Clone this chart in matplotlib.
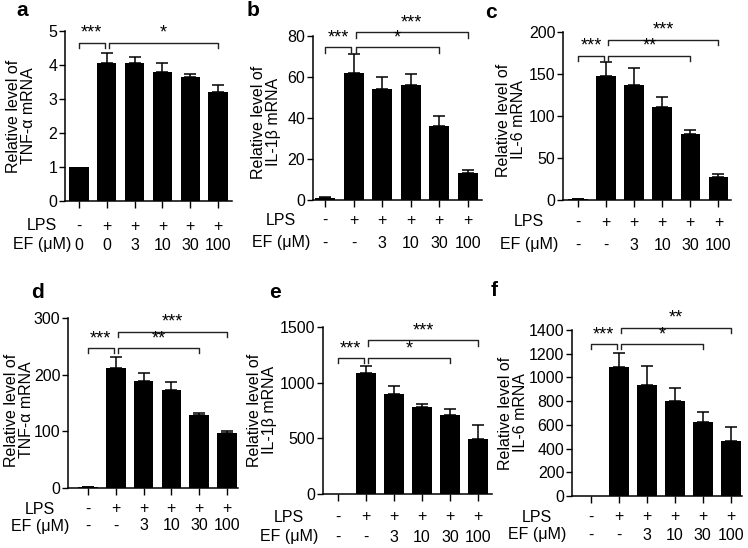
import numpy as np
import matplotlib
matplotlib.use('Agg')
import matplotlib.pyplot as plt

plt.rcParams['font.family'] = ['Liberation Sans', 'DejaVu Sans']

# Row labels under the bars
lps = ['-', '+', '+', '+', '+', '+']
ef_a = ['0', '0', '3', '10', '30', '100']
ef = ['-', '-', '3', '10', '30', '100']

# Bar means and (upper) SEM
tnf_a_mean = [1.0, 4.07, 4.07, 3.78, 3.65, 3.21]
tnf_a_err = [0, 0.29, 0.17, 0.28, 0.08, 0.19]
il1b_b_mean = [1, 62, 54, 56, 36, 13]
il1b_b_err = [0.3, 9, 6, 5.5, 5, 1.5]
il6_c_mean = [1, 148, 137, 111, 78, 27]
il6_c_err = [0.5, 16, 20, 12, 5, 4]
tnf_d_mean = [1, 211, 188, 173, 128, 97]
tnf_d_err = [0.5, 20, 15, 14, 4, 4]
il1b_e_mean = [0, 1087, 901, 781, 707, 497]
il1b_e_err = [0, 60, 72, 30, 60, 123]
il6_f_mean = [0, 1090, 935, 803, 625, 465]
il6_f_err = [0, 118, 164, 104, 85, 118]

# significance brackets: (from bar, to bar, label, height)
sig_a = [(0, 1, '***', 4.66), (1, 5, '*', 4.66)]
sig_b = [(0, 1, '***', 74.5), (1, 4, '*', 74.5), (1, 5, '***', 81.8)]
sig_c = [(0, 1, '***', 172), (1, 4, '**', 172), (1, 5, '***', 191)]
sig_d = [(0, 1, '***', 247), (1, 4, '**', 247), (1, 5, '***', 276)]
sig_e = [(0, 1, '***', 1221), (1, 4, '*', 1221), (1, 5, '***', 1380)]
sig_f = [(0, 1, '***', 1282), (1, 4, '*', 1282), (1, 5, '**', 1420)]

W, H = 748, 548
fig = plt.figure(figsize=(W / 100, H / 100), dpi=100)

panels = [
    # axes px box (left, right, top, bottom), letter / ylabel positions in px,
    # LPS / EF row offsets below the axis in px
    dict(letter='a', mean=tnf_a_mean, err=tnf_a_err, sig=sig_a, ymax=5, ystep=1,
         ylabel='Relative level of\nTNF-α mRNA', ef=ef_a,
         box=(65, 232, 31, 201), xl=(-0.5, 5.5), lpos=(22, 11), ypos=(21, 116),
         rows=(25, 44), rowx=42),
    dict(letter='b', mean=il1b_b_mean, err=il1b_b_err, sig=sig_b, ymax=80, ystep=20,
         ylabel='Relative level of\nIL-1β mRNA', ef=ef,
         box=(313, 482, 36, 200), xl=(-0.42, 5.5), lpos=(253, 10), ypos=(266, 122),
         rows=(20, 43), rowx=281),
    dict(letter='c', mean=il6_c_mean, err=il6_c_err, sig=sig_c, ymax=200, ystep=50,
         ylabel='Relative level of\nIL-6 mRNA', ef=ef,
         box=(563, 731, 32, 200), xl=(-0.54, 5.45), lpos=(491, 12), ypos=(511, 120),
         rows=(22, 45), rowx=529),
    dict(letter='d', mean=tnf_d_mean, err=tnf_d_err, sig=sig_d, ymax=300, ystep=100,
         ylabel='Relative level of\nTNF-α mRNA', ef=ef,
         box=(68, 238, 318, 488), xl=(-0.72, 5.4), lpos=(38, 292), ypos=(19, 410),
         rows=(21, 38), rowx=40),
    dict(letter='e', mean=il1b_e_mean, err=il1b_e_err, sig=sig_e, ymax=1500, ystep=500,
         ylabel='Relative level of\nIL-1β mRNA', ef=ef,
         box=(323, 492, 327, 494), xl=(-0.53, 5.5), lpos=(275, 293), ypos=(262, 410),
         rows=(23, 43), rowx=289),
    dict(letter='f', mean=il6_f_mean, err=il6_f_err, sig=sig_f, ymax=1400, ystep=200,
         ylabel='Relative level of\nIL-6 mRNA', ef=ef,
         box=(572, 742, 330, 496), xl=(-0.67, 5.4), lpos=(494, 291), ypos=(513, 413),
         rows=(21, 39), rowx=537),
]

fs = 11.5
for p in panels:
    l, r, t, b = p['box']
    ax = fig.add_axes([l / W, 1 - b / H, (r - l) / W, (b - t) / H])
    x = np.arange(len(p['mean']))
    mean = np.array(p['mean'], dtype=float)
    err = np.array(p['err'], dtype=float)

    ax.bar(x, mean, width=0.7, color='black', zorder=2)
    m = err > 0
    ax.errorbar(x[m], mean[m], yerr=[np.zeros(m.sum()), err[m]], fmt='none',
                ecolor='black', elinewidth=1.1, capsize=4.5, capthick=1.1, zorder=1)

    ax.set_xlim(*p['xl'])
    ax.set_ylim(0, p['ymax'])
    ax.set_yticks(np.arange(0, p['ymax'] + 1, p['ystep']))
    ax.set_xticks(x)
    ax.set_xticklabels([])
    ax.tick_params(axis='y', labelsize=fs, length=4, width=1, pad=1.5)
    ax.tick_params(axis='x', length=5, width=1)
    for s in ['top', 'right']:
        ax.spines[s].set_visible(False)
    for s in ['left', 'bottom']:
        ax.spines[s].set_linewidth(1.1)

    # significance brackets
    arm = 0.032 * p['ymax']
    for (i, j, lab, h) in p['sig']:
        x0 = i + 0.08 if i == 1 else i
        x1 = j - 0.08 if j == 1 else j
        ax.plot([x0, x0, x1, x1], [h - arm, h, h, h - arm], color='#222222',
                lw=1.0, clip_on=False)
        ax.text((x0 + x1) / 2, h + 0.005 * p['ymax'], lab, ha='center', va='bottom',
                fontsize=13, clip_on=False)

    # LPS / EF rows
    dy1, dy2 = p['rows']
    for i in x:
        ax.annotate(lps[i], xy=(i, 0), xycoords=('data', 'axes fraction'),
                    xytext=(0, -dy1), textcoords='offset pixels',
                    ha='center', va='center', fontsize=fs)
        ax.annotate(p['ef'][i], xy=(i, 0), xycoords=('data', 'axes fraction'),
                    xytext=(0, -dy2), textcoords='offset pixels',
                    ha='center', va='center', fontsize=fs)
    fig.text(p['rowx'] / W, 1 - (b + dy1) / H, 'LPS', ha='center', va='center', fontsize=fs)
    fig.text(p['rowx'] / W, 1 - (b + dy2) / H, 'EF (μM)', ha='center', va='center', fontsize=fs)

    # y label and panel letter
    fig.text(p['ypos'][0] / W, 1 - p['ypos'][1] / H, p['ylabel'], rotation=90,
             ha='center', va='center', fontsize=fs, linespacing=1.05,
             multialignment='center')
    fig.text(p['lpos'][0] / W, 1 - p['lpos'][1] / H, p['letter'], ha='center',
             va='center', fontsize=15, fontweight='bold')

fig.savefig('out.png', dpi=100)
